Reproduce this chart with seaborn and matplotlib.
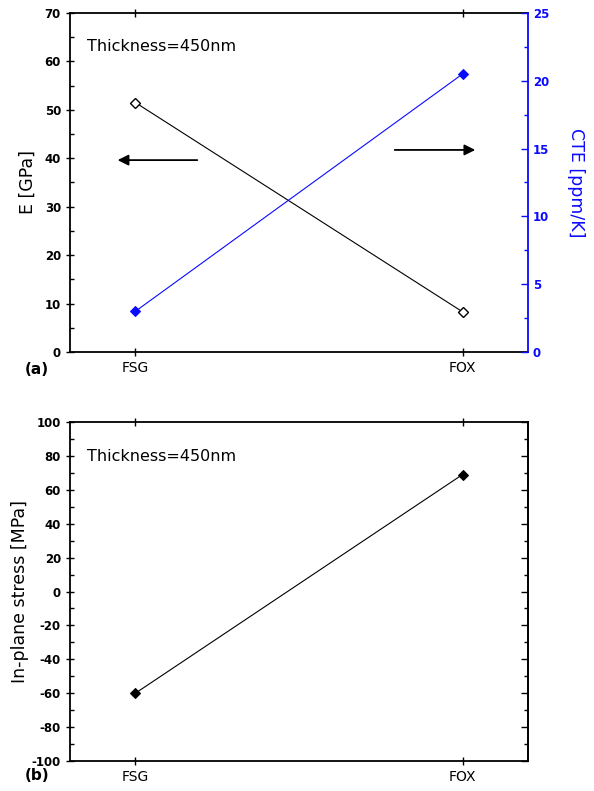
import matplotlib
matplotlib.use("Agg")
import matplotlib.pyplot as plt
import seaborn as sns
import pandas as pd
from matplotlib.ticker import MultipleLocator

sns.set_theme(style="white")
plt.rcParams['font.family'] = ['DejaVu Sans']
plt.rcParams['axes.unicode_minus'] = False
plt.rcParams['text.color'] = 'black'
plt.rcParams['axes.labelcolor'] = 'black'
plt.rcParams['xtick.color'] = 'black'
plt.rcParams['ytick.color'] = 'black'

materials = ["FSG", "FOX"]
modulus_gpa = [51.5, 8.3]
cte_ppm = [3.0, 20.5]
stress_mpa = [-60, 69]
thickness_label = "Thickness=450nm"

xpos = [0, 1]
df_a = pd.DataFrame({"x": xpos, "E": modulus_gpa, "CTE": cte_ppm})
df_b = pd.DataFrame({"x": xpos, "S": stress_mpa})

BLUE = "#0a0aff"
fig = plt.figure(figsize=(5.94, 7.91), dpi=100)
ax1 = fig.add_axes([0.1178, 0.555, 0.771, 0.4286])
ax3 = fig.add_axes([0.1178, 0.0379, 0.771, 0.4286])

xtick_font = dict(fontsize=10)
YT = 8.5
LABEL = 12.5

# ---- panel (a)
sns.lineplot(data=df_a, x="x", y="E", ax=ax1, color="black", lw=0.8,
             marker="D", markersize=5.5, markerfacecolor="white",
             markeredgecolor="black", markeredgewidth=1.0)
ax2 = ax1.twinx()
sns.lineplot(data=df_a, x="x", y="CTE", ax=ax2, color=BLUE, lw=0.8,
             marker="D", markersize=5.5, markerfacecolor=BLUE,
             markeredgecolor=BLUE)

ax1.set_xlim(-0.2, 1.2)
ax1.set_ylim(0, 70)
ax2.set_ylim(0, 25)
ax1.yaxis.set_major_locator(MultipleLocator(10))
ax1.yaxis.set_minor_locator(MultipleLocator(5))
ax2.yaxis.set_major_locator(MultipleLocator(5))
ax2.yaxis.set_minor_locator(MultipleLocator(2.5))
ax1.set_xticks(xpos)
ax1.set_xticklabels(materials, **xtick_font)
ax1.set_xlabel("")
ax2.set_xlabel("")
ax1.set_ylabel("E [GPa]", fontsize=LABEL, labelpad=6)
ax2.set_ylabel("CTE [ppm/K]", fontsize=LABEL, color=BLUE, rotation=270, labelpad=26)

for lbl in ax1.get_yticklabels():
    lbl.set_fontweight("bold"); lbl.set_fontsize(YT)
for lbl in ax2.get_yticklabels():
    lbl.set_fontweight("bold"); lbl.set_fontsize(YT); lbl.set_color(BLUE)

ax1.tick_params(axis="y", which="major", direction="inout", length=6, width=1, left=True, right=False)
ax1.tick_params(axis="y", which="minor", direction="in", length=3, width=1, left=True)
ax1.tick_params(axis="x", which="major", direction="inout", length=6, width=1, bottom=True, top=True)
ax2.tick_params(axis="y", which="major", direction="in", length=5, width=1, colors=BLUE, right=True)
ax2.tick_params(axis="y", which="minor", direction="in", length=3, width=1, color=BLUE, right=True)
for s in ["left", "bottom", "top"]:
    ax1.spines[s].set_color("black"); ax1.spines[s].set_linewidth(1.3)
ax1.spines["right"].set_visible(False)
ax2.spines["right"].set_color(BLUE); ax2.spines["right"].set_linewidth(1.3)
for s in ["left", "bottom", "top"]:
    ax2.spines[s].set_visible(False)

ax1.text(0.037, 0.90, thickness_label, transform=ax1.transAxes, fontsize=11.5, va="center")
ax1.annotate("", xy=(0.098, 0.566), xytext=(0.284, 0.566), xycoords="axes fraction",
             arrowprops=dict(arrowstyle="-|>", color="black", lw=1.3, mutation_scale=16))
ax1.annotate("", xy=(0.891, 0.596), xytext=(0.703, 0.596), xycoords="axes fraction",
             arrowprops=dict(arrowstyle="-|>", color="black", lw=1.3, mutation_scale=16))
fig.text(25/594, 1 - 370/791, "(a)", fontsize=11, fontweight="bold", va="center", ha="left")

# ---- panel (b)
sns.lineplot(data=df_b, x="x", y="S", ax=ax3, color="black", lw=0.8,
             marker="D", markersize=5.5, markerfacecolor="black", markeredgecolor="black")
ax3.set_xlim(-0.2, 1.2)
ax3.set_ylim(-100, 100)
ax3.yaxis.set_major_locator(MultipleLocator(20))
ax3.yaxis.set_minor_locator(MultipleLocator(10))
ax3.set_xticks(xpos)
ax3.set_xticklabels(materials, **xtick_font)
ax3.set_xlabel("")
ax3.set_ylabel("In-plane stress [MPa]", fontsize=LABEL, labelpad=2)
for lbl in ax3.get_yticklabels():
    lbl.set_fontweight("bold"); lbl.set_fontsize(YT)
ax3.tick_params(axis="y", which="major", direction="inout", length=6, width=1, left=True, right=False)
ax3.tick_params(axis="y", which="minor", direction="in", length=3, width=1, left=True, right=False)
ax3.tick_params(axis="x", which="major", direction="inout", length=6, width=1, bottom=True, top=True)
sec = ax3.secondary_yaxis("right")
sec.yaxis.set_major_locator(MultipleLocator(20))
sec.yaxis.set_minor_locator(MultipleLocator(10))
sec.tick_params(axis="y", which="major", direction="in", length=5, width=1, labelright=False)
sec.tick_params(axis="y", which="minor", direction="in", length=3, width=1)
sec.spines["right"].set_linewidth(1.3)
for s in ax3.spines.values():
    s.set_color("black"); s.set_linewidth(1.3)
ax3.text(0.037, 0.897, thickness_label, transform=ax3.transAxes, fontsize=11.5, va="center")
fig.text(25/594, 1 - 775/791, "(b)", fontsize=11, fontweight="bold", va="center", ha="left")

fig.savefig("out.png", dpi=100)
